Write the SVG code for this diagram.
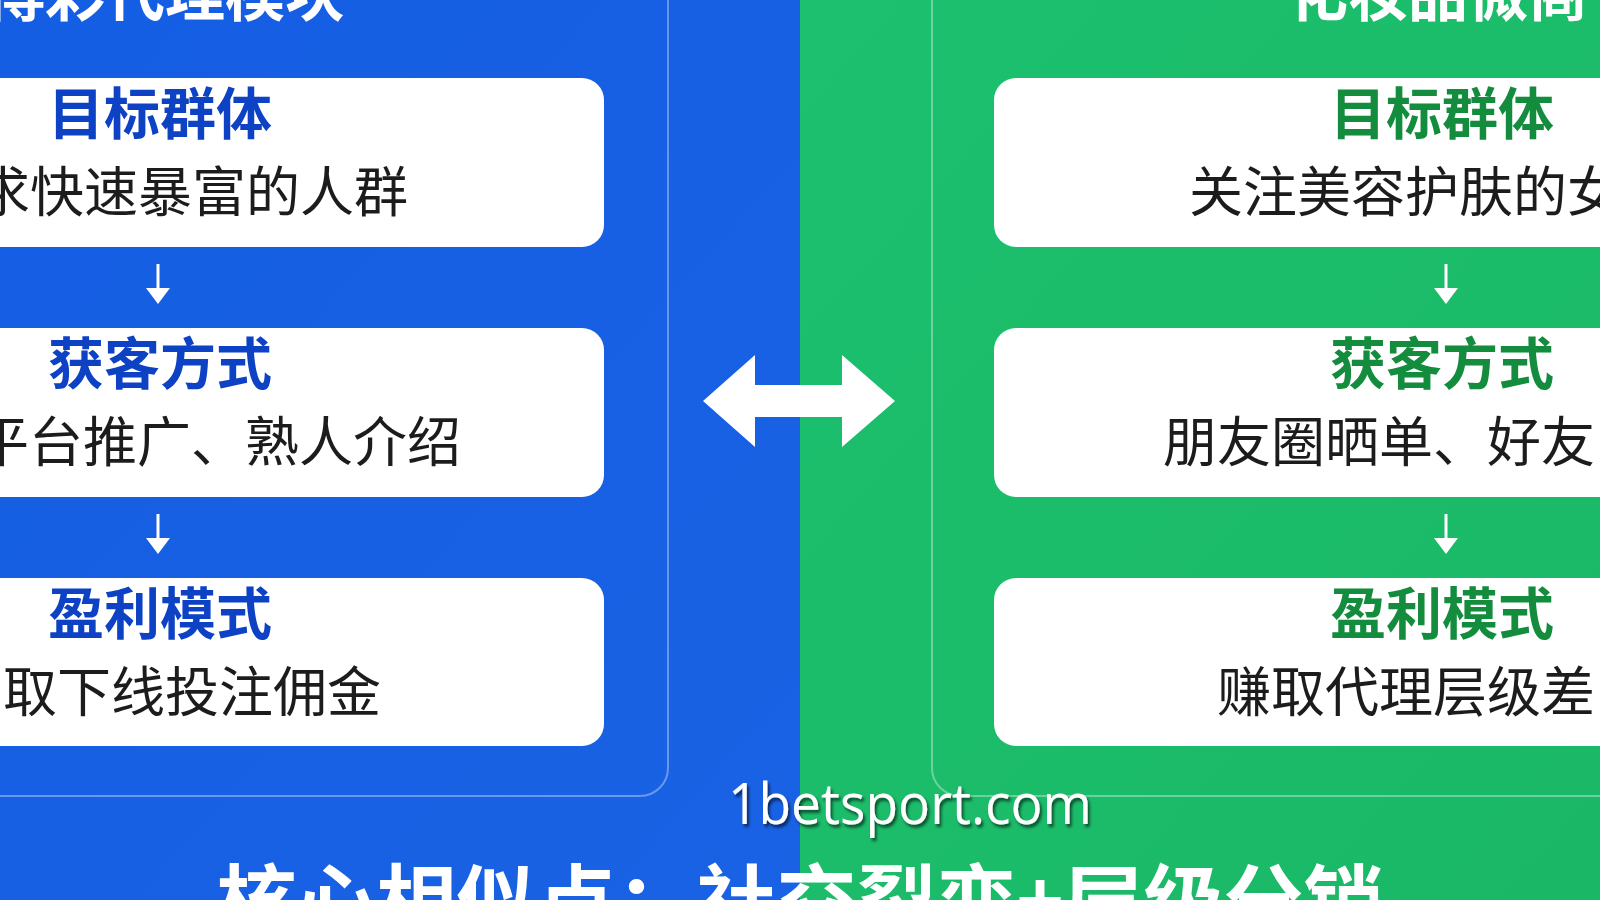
<svg xmlns="http://www.w3.org/2000/svg" width="1600" height="900" viewBox="0 0 1600 900">
<defs>
<style>
.cjk{font-family:"Noto Sans CJK SC","Noto Sans",sans-serif}
.title{fill:#ffffff;font-weight:700;font-size:60px}
.hb{fill:#0e42c4;font-weight:700;font-size:56px;text-anchor:middle}
.hg{fill:#138c3d;font-weight:700;font-size:56px;text-anchor:middle}
.body{fill:#1c1c1c;font-weight:400;font-size:54px}
.box{fill:#ffffff}
.panel{fill:none;stroke:#ffffff;stroke-opacity:0.35;stroke-width:2}
.small{stroke:#ffffff;stroke-width:3;fill:none}
.head{fill:#ffffff}
</style>
<linearGradient id="gBlue" x1="0" y1="0" x2="1" y2="1">
<stop offset="0" stop-color="#145ee3"/>
<stop offset="1" stop-color="#1a62e4"/>
</linearGradient>
<linearGradient id="gGreen" x1="0" y1="0" x2="1" y2="1">
<stop offset="0" stop-color="#1cc06e"/>
<stop offset="1" stop-color="#1ab866"/>
</linearGradient>
<filter id="shadow" x="-10%" y="-30%" width="120%" height="160%">
<feDropShadow dx="2" dy="3" stdDeviation="1.5" flood-color="#000000" flood-opacity="0.6"/>
</filter>
<g id="downArrow">
<line class="small" x1="0" y1="0" x2="0" y2="26"/>
<polygon class="head" points="-12,24 12,24 0,40"/>
</g>
</defs>

<g id="background">
<rect x="0" y="0" width="800" height="900" fill="url(#gBlue)"/>
<rect x="800" y="0" width="800" height="900" fill="url(#gGreen)"/>
</g>

<g id="left-panel">
<rect class="panel" x="-40" y="-40" width="708" height="836" rx="28"/>
<text class="cjk title" x="345" y="16" text-anchor="end">博彩代理模块</text>
</g>

<g id="right-panel">
<rect class="panel" x="932" y="-40" width="708" height="836" rx="28"/>
<text class="cjk title" x="1288" y="16">化妆品微商</text>
</g>

<g id="left-target">
<rect class="box" x="-30" y="78" width="634" height="169" rx="22"/>
<text class="cjk hb" x="160" y="134">目标群体</text>
<text class="cjk body" x="408" y="212" text-anchor="end">求快速暴富的人群</text>
</g>
<g id="left-acquire">
<rect class="box" x="-30" y="328" width="634" height="169" rx="22"/>
<text class="cjk hb" x="160" y="384">获客方式</text>
<text class="cjk body" x="461" y="462" text-anchor="end">平台推广、熟人介绍</text>
</g>
<g id="left-profit">
<rect class="box" x="-30" y="578" width="634" height="168" rx="22"/>
<text class="cjk hb" x="160" y="634">盈利模式</text>
<text class="cjk body" x="381" y="712" text-anchor="end">取下线投注佣金</text>
</g>

<g id="right-target">
<rect class="box" x="994" y="78" width="650" height="169" rx="22"/>
<text class="cjk hg" x="1442" y="134">目标群体</text>
<text class="cjk body" x="1189" y="212">关注美容护肤的女</text>
</g>
<g id="right-acquire">
<rect class="box" x="994" y="328" width="650" height="169" rx="22"/>
<text class="cjk hg" x="1442" y="384">获客方式</text>
<text class="cjk body" x="1163" y="462">朋友圈晒单、好友</text>
</g>
<g id="right-profit">
<rect class="box" x="994" y="578" width="650" height="168" rx="22"/>
<text class="cjk hg" x="1442" y="634">盈利模式</text>
<text class="cjk body" x="1217" y="712">赚取代理层级差</text>
</g>

<g id="connectors">
<use href="#downArrow" x="158" y="264"/>
<use href="#downArrow" x="158" y="514"/>
<use href="#downArrow" x="1446" y="264"/>
<use href="#downArrow" x="1446" y="514"/>
<polygon id="double-arrow" fill="#ffffff" points="703,401 755,355 755,385 842,385 842,355 895,401 842,447 842,417 755,417 755,447"/>
</g>

<g id="watermark">
<text x="728" y="824" font-family="Open Sans, Liberation Sans, sans-serif" font-size="56" font-weight="400" fill="#ffffff" textLength="364" lengthAdjust="spacingAndGlyphs" filter="url(#shadow)">1betsport.com</text>
</g>

<g id="footer">
<text class="cjk" x="800" y="931" text-anchor="middle" font-size="80" font-weight="700" fill="#ffffff">核心相似点：社交裂变+层级分销</text>
</g>
</svg>
